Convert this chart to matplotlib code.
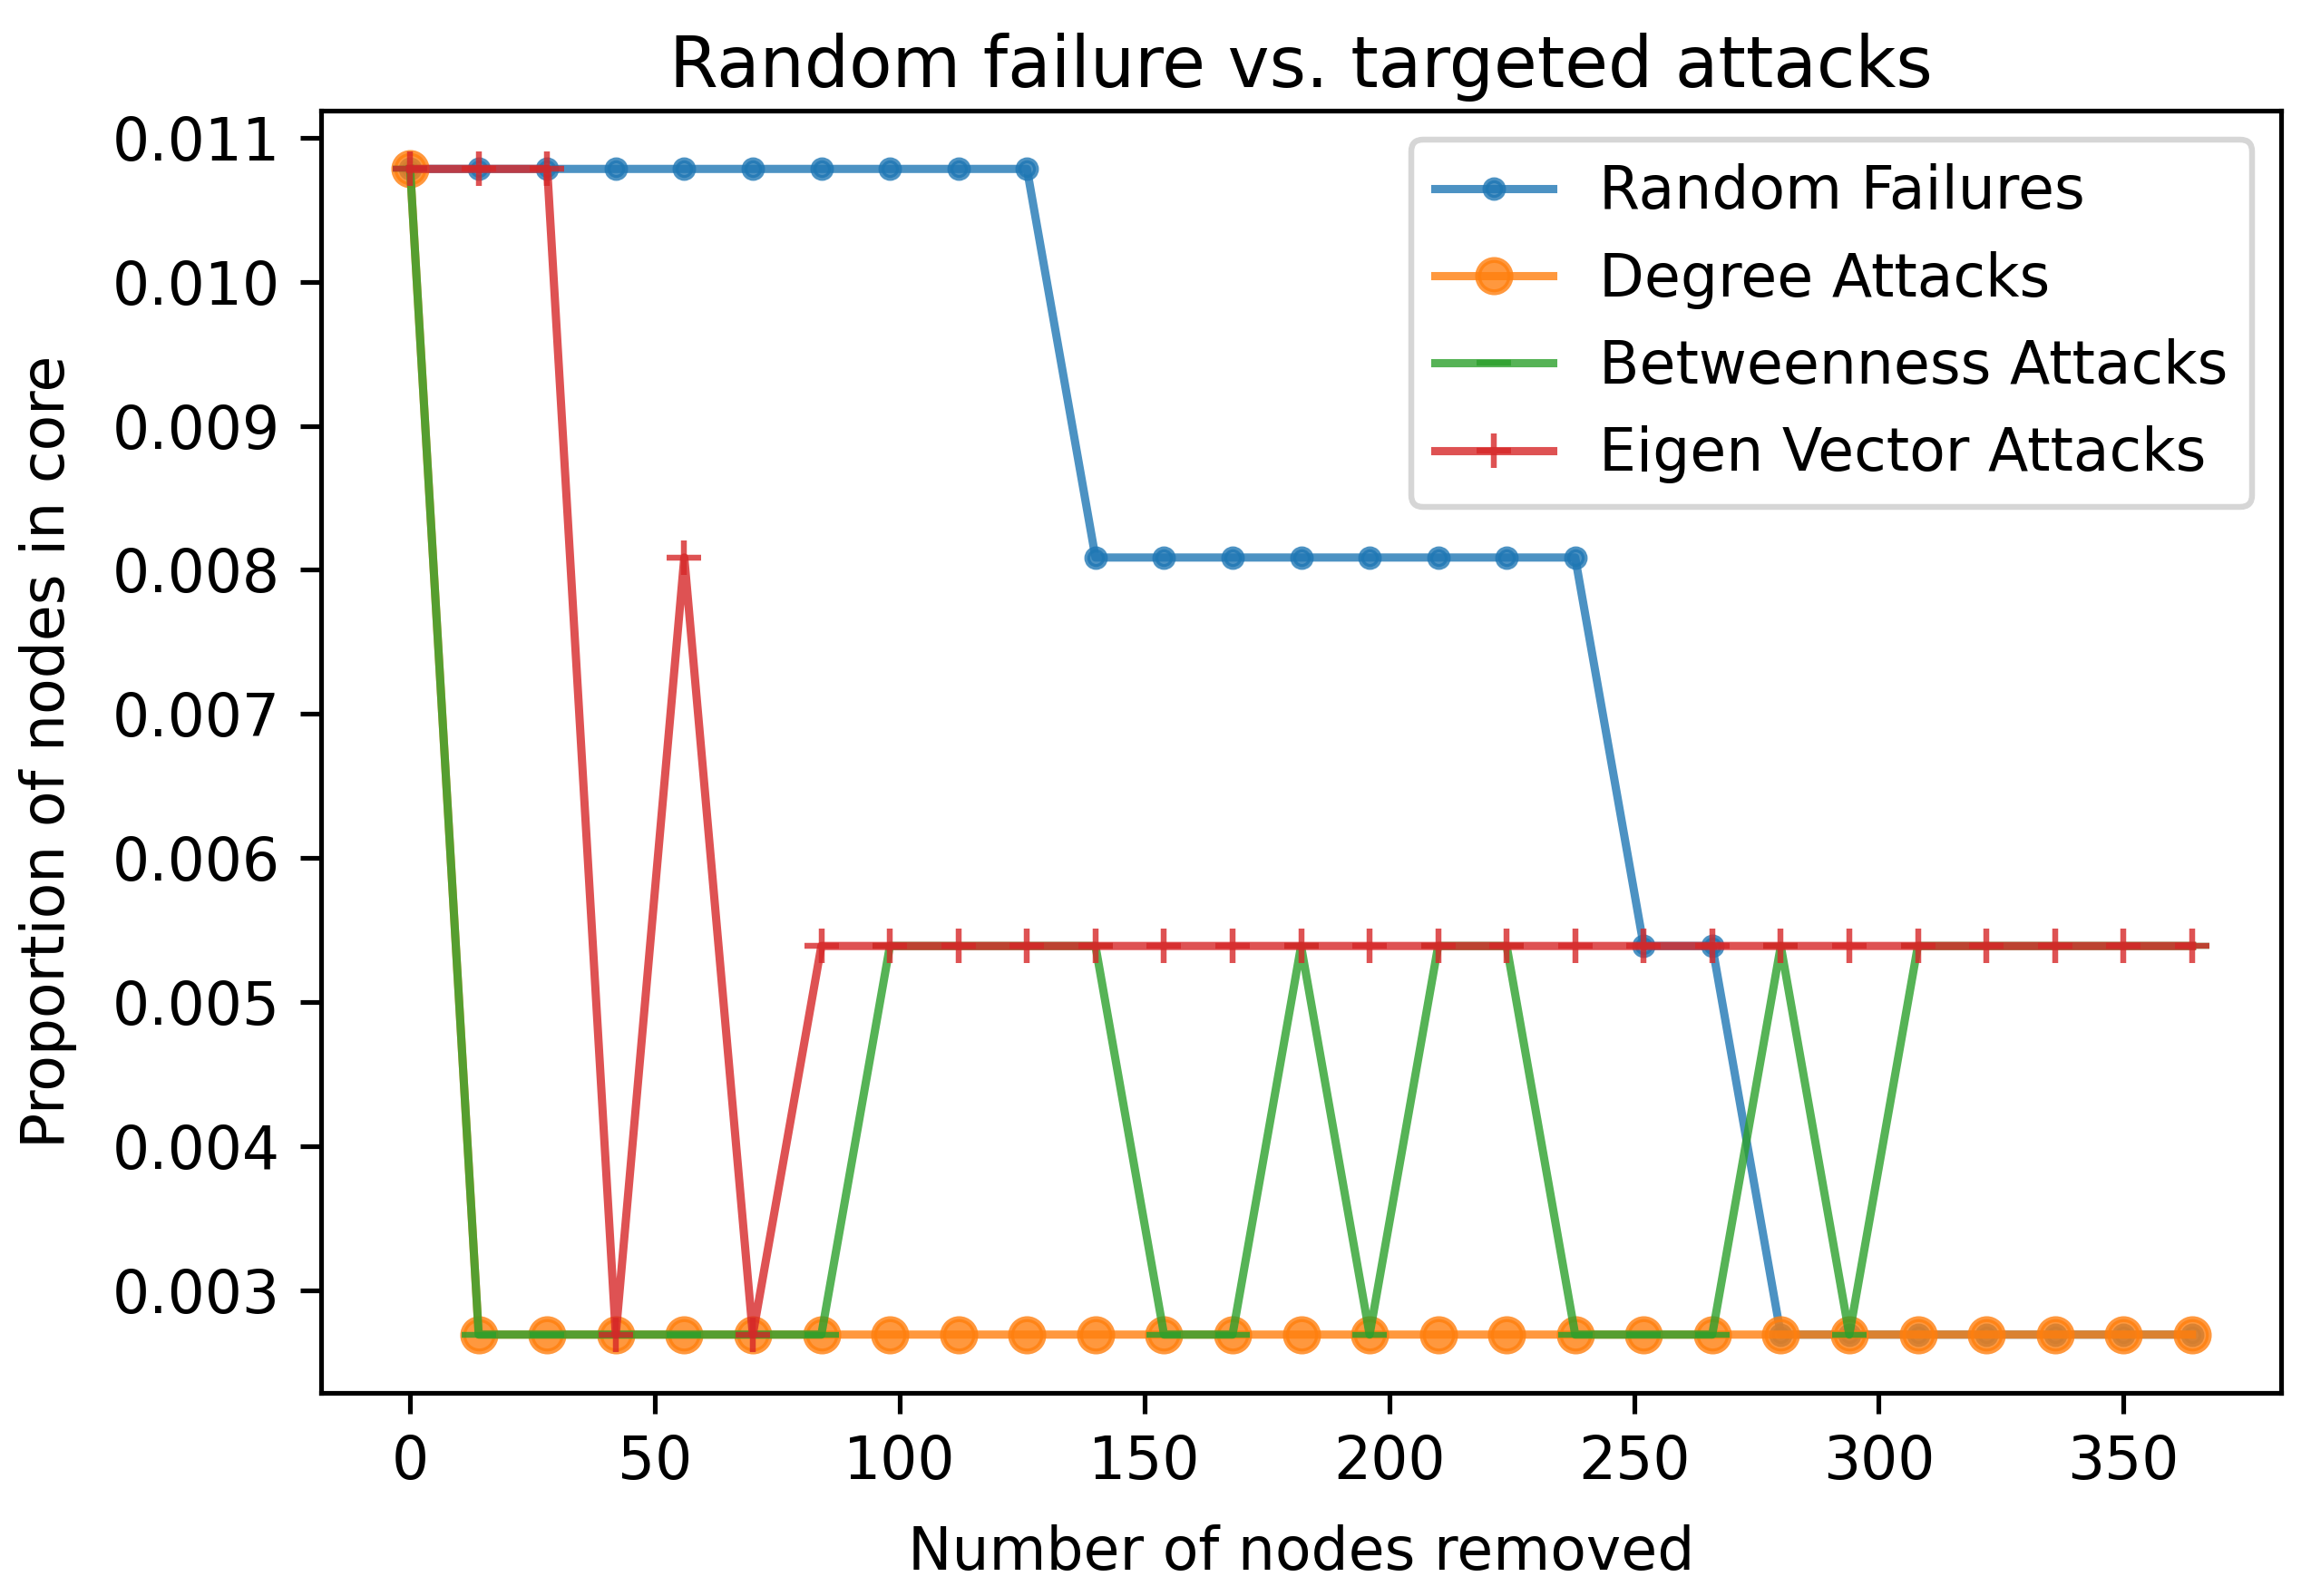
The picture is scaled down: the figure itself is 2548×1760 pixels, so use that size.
import matplotlib
matplotlib.use("Agg")
import matplotlib.pyplot as plt

# Data
nodes_removed = [0, 14, 28, 42, 56, 70, 84, 98, 112, 126, 140, 154, 168, 182,
                 196, 210, 224, 238, 252, 266, 280, 294, 308, 322, 336, 350, 364]

L4 = 0.010782
L3 = 0.008086
L2 = 0.005391
L1 = 0.002695

random_failures = [L4, L4, L4, L4, L4, L4, L4, L4, L4, L4,
                   L3, L3, L3, L3, L3, L3, L3, L3,
                   L2, L2,
                   L1, L1, L1, L1, L1, L1, L1]
degree_attacks = [L4] + [L1] * 26
betweenness_attacks = [L4, L1, L1, L1, L1, L1, L1, L2, L2, L2, L2, L1, L1, L2,
                       L1, L2, L2, L1, L1, L1, L2, L1, L2, L2, L2, L2, L2]
eigen_attacks = [L4, L4, L4, L1, L3, L1, L2, L2, L2, L2, L2, L2, L2, L2,
                 L2, L2, L2, L2, L2, L2, L2, L2, L2, L2, L2, L2, L2]

DPI = 466
fig = plt.figure(figsize=(2548 / DPI, 1760 / DPI), dpi=DPI)
ax = fig.add_axes([354 / 2548, 1 - 1536 / 1760, (2515 - 354) / 2548, (1536 - 122) / 1760])

ax.plot(nodes_removed, random_failures, marker='.', lw=1.4, alpha=0.8, label='Random Failures')
ax.plot(nodes_removed, degree_attacks, marker='o', lw=1.4, ms=5.5, alpha=0.8, label='Degree Attacks')
ax.plot(nodes_removed, betweenness_attacks, marker='_', lw=1.4, alpha=0.8, label='Betweenness Attacks')
ax.plot(nodes_removed, eigen_attacks, marker='+', lw=1.4, alpha=0.8, label='Eigen Vector Attacks')

ax.set_title('Random failure vs. targeted attacks', pad=4.0)
ax.set_xlabel('Number of nodes removed', labelpad=5.5)
ax.set_ylabel('Proportion of nodes in core', labelpad=6)
ax.legend(loc='upper right')

fig.savefig('out.png', dpi=DPI)
